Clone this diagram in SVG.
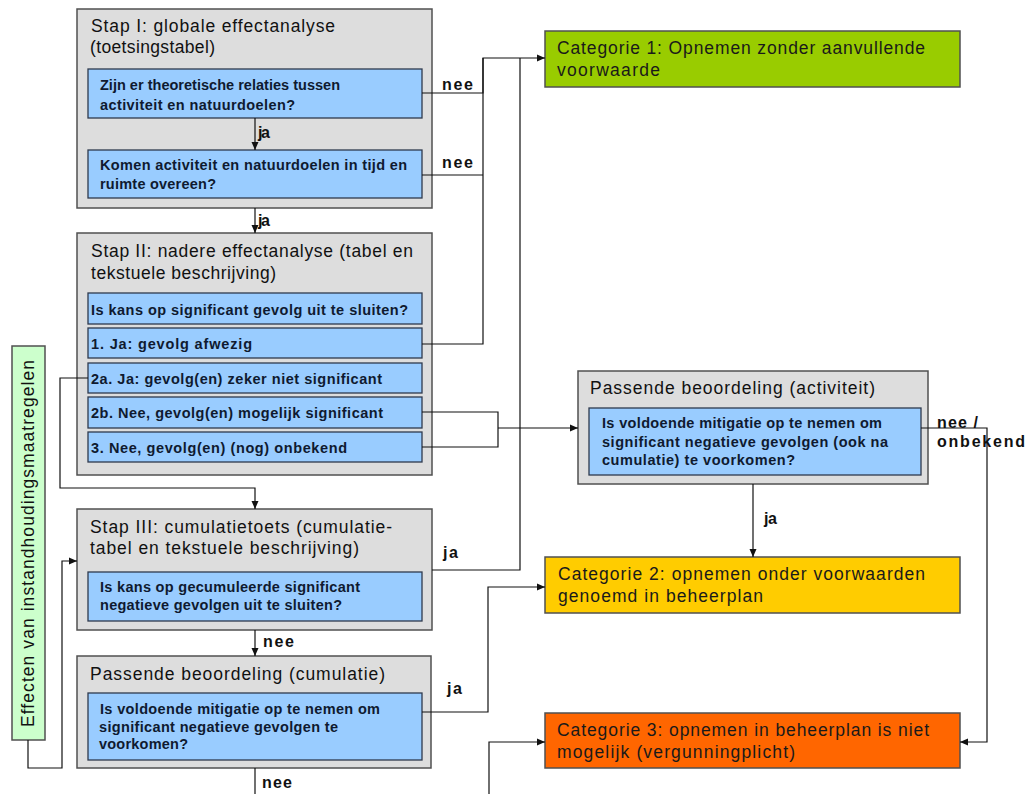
<svg xmlns="http://www.w3.org/2000/svg" width="1031" height="794" viewBox="0 0 1031 794">
  <style>
    .panel { fill: #dddddd; stroke: #505050; stroke-width: 1.5; }
    .q { fill: #99ccff; stroke: #2e3a4e; stroke-width: 1.3; }
    .title { font-family: "Liberation Sans", Arial, sans-serif; font-size: 17.5px; fill: #111111; }
    .qt { font-family: "Liberation Sans", Arial, sans-serif; font-size: 14.5px; font-weight: bold; fill: #0f1a30; }
    .cat { stroke: #505050; stroke-width: 1.5; }
    .ct { font-family: "Liberation Sans", Arial, sans-serif; font-size: 17.5px; fill: #1a1a1a; }
    .lbl { font-family: "Liberation Sans", Arial, sans-serif; font-size: 16px; font-weight: bold; fill: #111111; }
    .wire { fill: none; stroke: #111111; stroke-width: 1.2; }
  </style>
  <defs>
    <marker id="ah" markerUnits="userSpaceOnUse" markerWidth="9" markerHeight="8" refX="8" refY="4" orient="auto">
      <path d="M0,0.5 L8,4 L0,7.5 z" fill="#111111"/>
    </marker>
  </defs>
  <rect width="1031" height="794" fill="#ffffff"/>

  <!-- Stap I -->
  <g id="stap1">
    <rect class="panel" x="77" y="9" width="355" height="199"/>
    <text class="title" x="91" y="32" textLength="244">Stap I: globale effectanalyse</text>
    <text class="title" x="90" y="53" textLength="125">(toetsingstabel)</text>
    <rect class="q" x="88" y="69" width="334" height="49"/>
    <text class="qt" x="100" y="90" textLength="240">Zijn er theoretische relaties tussen</text>
    <text class="qt" x="100" y="110" textLength="195">activiteit en natuurdoelen?</text>
    <rect class="q" x="88" y="150" width="334" height="48"/>
    <text class="qt" x="100" y="170" textLength="307">Komen activiteit en natuurdoelen in tijd en</text>
    <text class="qt" x="100" y="189" textLength="116">ruimte overeen?</text>
  </g>

  <!-- Stap II -->
  <g id="stap2">
    <rect class="panel" x="77" y="233" width="355" height="242"/>
    <text class="title" x="91" y="257" textLength="322">Stap II: nadere effectanalyse (tabel en</text>
    <text class="title" x="91" y="279" textLength="185">tekstuele beschrijving)</text>
    <rect class="q" x="88" y="293" width="334" height="31"/>
    <text class="qt" x="91" y="315" textLength="317">Is kans op significant gevolg uit te sluiten?</text>
    <rect class="q" x="88" y="328" width="334" height="30"/>
    <text class="qt" x="91" y="349" textLength="161">1. Ja: gevolg afwezig</text>
    <rect class="q" x="88" y="363" width="334" height="30"/>
    <text class="qt" x="91" y="384" textLength="291">2a. Ja: gevolg(en) zeker niet significant</text>
    <rect class="q" x="88" y="397" width="334" height="31"/>
    <text class="qt" x="91" y="418" textLength="292">2b. Nee, gevolg(en) mogelijk significant</text>
    <rect class="q" x="88" y="432" width="334" height="30"/>
    <text class="qt" x="91" y="453" textLength="256">3. Nee, gevolg(en) (nog) onbekend</text>
  </g>

  <!-- Stap III -->
  <g id="stap3">
    <rect class="panel" x="77" y="509" width="355" height="121"/>
    <text class="title" x="90" y="533" textLength="302">Stap III: cumulatietoets (cumulatie-</text>
    <text class="title" x="90" y="554" textLength="269">tabel en tekstuele beschrijving)</text>
    <rect class="q" x="88" y="572" width="334" height="49"/>
    <text class="qt" x="100" y="592" textLength="260">Is kans op gecumuleerde significant</text>
    <text class="qt" x="100" y="610" textLength="242">negatieve gevolgen uit te sluiten?</text>
  </g>

  <!-- Passende beoordeling (cumulatie) -->
  <g id="pb-cumulatie">
    <rect class="panel" x="77" y="656" width="354" height="112"/>
    <text class="title" x="90" y="680" textLength="295">Passende beoordeling (cumulatie)</text>
    <rect class="q" x="88" y="693" width="334" height="67"/>
    <text class="qt" x="100" y="714" textLength="280">Is voldoende mitigatie op te nemen om</text>
    <text class="qt" x="99" y="732" textLength="239">significant negatieve gevolgen te</text>
    <text class="qt" x="99" y="749" textLength="89">voorkomen?</text>
  </g>

  <!-- Passende beoordeling (activiteit) -->
  <g id="pb-activiteit">
    <rect class="panel" x="578" y="371" width="350" height="113"/>
    <text class="title" x="590" y="394" textLength="285">Passende beoordeling (activiteit)</text>
    <rect class="q" x="589" y="408" width="332" height="67"/>
    <text class="qt" x="602" y="428" textLength="280">Is voldoende mitigatie op te nemen om</text>
    <text class="qt" x="602" y="447" textLength="286">significant negatieve gevolgen (ook na</text>
    <text class="qt" x="602" y="465" textLength="193">cumulatie) te voorkomen?</text>
  </g>

  <!-- Categorieën -->
  <g id="cat1">
    <rect class="cat" x="545" y="31" width="415" height="56" fill="#99cc00"/>
    <text class="ct" x="557" y="54" textLength="368">Categorie 1: Opnemen zonder aanvullende</text>
    <text class="ct" x="557" y="76" textLength="103">voorwaarde</text>
  </g>
  <g id="cat2">
    <rect class="cat" x="545" y="557" width="415" height="56" fill="#ffcc00"/>
    <text class="ct" x="558" y="580" textLength="367">Categorie 2: opnemen onder voorwaarden</text>
    <text class="ct" x="558" y="602" textLength="205">genoemd in beheerplan</text>
  </g>
  <g id="cat3">
    <rect class="cat" x="545" y="713" width="415" height="55" fill="#ff6600"/>
    <text class="ct" x="557" y="736" textLength="372" fill="#2a0800">Categorie 3: opnemen in beheerplan is niet</text>
    <text class="ct" x="557" y="758" textLength="238" fill="#2a0800">mogelijk (vergunningplicht)</text>
  </g>

  <!-- Instandhoudingsmaatregelen -->
  <g id="instandhouding">
    <rect x="12" y="346" width="33" height="394" fill="#ccffcc" stroke="#505050" stroke-width="1.5"/>
    <text class="title" transform="translate(34,727) rotate(-90)" x="0" y="0" textLength="367">Effecten van instandhoudingsmaatregelen</text>
  </g>

  <!-- connectors -->
  <g id="connectors">
    <path class="wire" d="M422,93 H483 V58 H545" marker-end="url(#ah)"/>
    <path class="wire" d="M422,175 H483"/>
    <path class="wire" d="M422,344 H483 V58"/>
    <path class="wire" d="M255,118 V150" marker-end="url(#ah)"/>
    <path class="wire" d="M255,208 V233" marker-end="url(#ah)"/>
    <path class="wire" d="M88,378 H60 V488 H255 V509" marker-end="url(#ah)"/>
    <path class="wire" d="M422,412 H498 V447 H422"/>
    <path class="wire" d="M498,428 H578" marker-end="url(#ah)"/>
    <path class="wire" d="M432,570 H520 V58"/>
    <path class="wire" d="M255,630 V656" marker-end="url(#ah)"/>
    <path class="wire" d="M422,712 H488 V587 H545" marker-end="url(#ah)"/>
    <path class="wire" d="M255,768 V794"/>
    <path class="wire" d="M489,794 V742 H545" marker-end="url(#ah)"/>
    <path class="wire" d="M753,484 V557" marker-end="url(#ah)"/>
    <path class="wire" d="M921,428 H987 V742 H960" marker-end="url(#ah)"/>
    <path class="wire" d="M28,740 V768 H62 V561 H77" marker-end="url(#ah)"/>

    <text class="lbl" x="442" y="90" textLength="31">nee</text>
    <text class="lbl" x="442" y="168" textLength="31">nee</text>
    <text class="lbl" x="258" y="138" textLength="12">ja</text>
    <text class="lbl" x="258" y="226" textLength="12">ja</text>
    <text class="lbl" x="443" y="558" textLength="15">ja</text>
    <text class="lbl" x="263" y="647" textLength="31">nee</text>
    <text class="lbl" x="447" y="694" textLength="15">ja</text>
    <text class="lbl" x="262" y="788" textLength="30">nee</text>
    <text class="lbl" x="937" y="428" textLength="41">nee /</text>
    <text class="lbl" x="937" y="447" textLength="88">onbekend</text>
    <text class="lbl" x="764" y="524" textLength="13">ja</text>
  </g>
</svg>
